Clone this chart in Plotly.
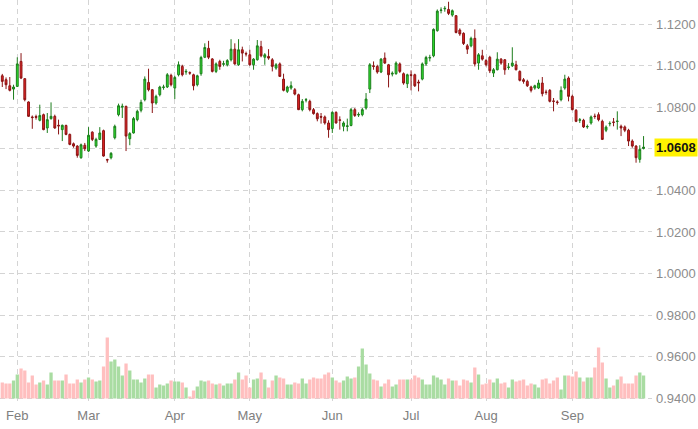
import pandas as pd
import plotly.graph_objects as go

# ---- data ----
holidays = ["2023-02-20", "2023-05-29", "2023-06-19", "2023-07-04", "2023-09-04"]
dates = [d for d in pd.bdate_range("2023-01-26", "2023-09-29") if d.strftime("%Y-%m-%d") not in holidays]

opens = [1.0951,1.0932,1.0903,1.0887,1.0900,1.1020,1.0937,1.0825,1.0753,1.0755,
         1.0737,1.0764,1.0700,1.0745,1.0756,1.0713,1.0692,1.0712,1.0669,1.0624,
         1.0613,1.0557,1.0617,1.0589,1.0680,1.0613,1.0645,1.0687,1.0548,1.0557,
         1.0653,1.0764,1.0800,1.0804,1.0648,1.0676,1.0740,1.0785,1.0836,1.0919,
         1.0884,1.0820,1.0860,1.0895,1.0897,1.0953,1.0892,1.0956,1.0996,1.0969,
         1.0966,1.0956,1.0908,1.0961,1.1040,1.1083,1.1032,1.0972,1.1020,1.1006,
         1.1004,1.1028,1.1079,1.1004,1.1076,1.1058,1.1052,1.1004,1.1028,1.1091,
         1.1040,1.1044,1.1028,1.0988,1.1008,1.0935,1.0876,1.0892,1.0884,1.0860,
         1.0788,1.0834,1.0828,1.0788,1.0769,1.0755,1.0753,1.0724,1.0697,1.0775,
         1.0739,1.0708,1.0707,1.0712,1.0788,1.0762,1.0764,1.0796,1.0887,1.0999,
         1.0996,1.0969,1.1036,1.1004,1.0959,1.0961,1.1008,1.0961,1.0913,1.0956,
         1.0956,1.0921,1.0935,1.1008,1.1036,1.1047,1.1168,1.1265,1.1273,1.1270,
         1.1243,1.1240,1.1171,1.1155,1.1095,1.1095,1.1131,1.1012,1.1047,1.1024,
         1.1040,1.0964,1.0980,1.1031,1.1028,1.0991,1.0999,1.1004,1.0972,1.0932,
         1.0924,1.0897,1.0892,1.0892,1.0916,1.0873,1.0881,1.0830,1.0825,1.0836,
         1.0892,1.0940,1.0852,1.0785,1.0737,1.0737,1.0705,1.0724,1.0757,1.0764,
         1.0732,1.0689,1.0720,1.0729,1.0731,1.0708,1.0705,1.0689,1.0637,1.0613,
         1.0549,1.0601]
highs = [1.0960,1.0943,1.0945,1.0908,1.1040,1.1060,1.0940,1.0828,1.0760,1.0764,
         1.0812,1.0769,1.0772,1.0823,1.0764,1.0740,1.0716,1.0716,1.0673,1.0630,
         1.0617,1.0625,1.0628,1.0704,1.0684,1.0653,1.0704,1.0692,1.0552,1.0584,
         1.0716,1.0817,1.0817,1.0807,1.0680,1.0753,1.0788,1.0836,1.0948,1.0985,
         1.0887,1.0860,1.0903,1.0908,1.0964,1.0961,1.0951,1.1020,1.1004,1.0983,
         1.0972,1.0961,1.0956,1.1047,1.1107,1.1119,1.1036,1.1015,1.1028,1.1023,
         1.1031,1.1127,1.1107,1.1127,1.1091,1.1067,1.1076,1.1036,1.1123,1.1119,
         1.1060,1.1079,1.1036,1.1012,1.1015,1.0961,1.0903,1.0924,1.0892,1.0865,
         1.0839,1.0844,1.0836,1.0796,1.0775,1.0772,1.0760,1.0737,1.0780,1.0780,
         1.0756,1.0732,1.0745,1.0796,1.0796,1.0775,1.0796,1.0868,1.1012,1.1020,
         1.1004,1.1036,1.1063,1.1008,1.0972,1.1020,1.1015,1.0967,1.0961,1.0977,
         1.0961,1.0932,1.1015,1.1047,1.1052,1.1179,1.1270,1.1280,1.1286,1.1307,
         1.1270,1.1243,1.1179,1.1160,1.1104,1.1139,1.1174,1.1060,1.1076,1.1031,
         1.1047,1.0988,1.1064,1.1036,1.1031,1.1012,1.1088,1.1023,1.0977,1.0940,
         1.0932,1.0903,1.0908,1.0932,1.0945,1.0884,1.0887,1.0844,1.0833,1.0900,
         1.0956,1.0948,1.0860,1.0791,1.0748,1.0744,1.0716,1.0760,1.0769,1.0775,
         1.0740,1.0712,1.0732,1.0748,1.0780,1.0716,1.0712,1.0696,1.0645,1.0617,
         1.0617,1.0661]
lows = [1.0897,1.0887,1.0876,1.0836,1.0897,1.0935,1.0828,1.0753,1.0696,1.0740,
        1.0732,1.0689,1.0676,1.0740,1.0696,1.0669,1.0637,1.0665,1.0617,1.0605,
        1.0557,1.0552,1.0589,1.0584,1.0637,1.0605,1.0642,1.0562,1.0533,1.0549,
        1.0645,1.0756,1.0748,1.0589,1.0617,1.0673,1.0732,1.0775,1.0828,1.0876,
        1.0772,1.0812,1.0852,1.0884,1.0892,1.0900,1.0839,1.0948,1.0948,1.0956,
        1.0956,1.0881,1.0900,1.0951,1.1036,1.1031,1.0967,1.0964,1.0980,1.0996,
        1.0996,1.1020,1.1004,1.0999,1.1020,1.1044,1.0999,1.0980,1.1024,1.1040,
        1.1004,1.1028,1.0972,1.0980,1.0945,1.0876,1.0868,1.0884,1.0857,1.0786,
        1.0780,1.0823,1.0780,1.0764,1.0732,1.0721,1.0716,1.0653,1.0676,1.0721,
        1.0692,1.0684,1.0684,1.0708,1.0753,1.0753,1.0756,1.0788,1.0868,1.0980,
        1.0961,1.0964,1.1008,1.0895,1.0948,1.0956,1.0964,1.0908,1.0892,1.0881,
        1.0897,1.0876,1.0929,1.0999,1.1020,1.1040,1.1163,1.1251,1.1259,1.1243,
        1.1235,1.1155,1.1143,1.1099,1.1056,1.1088,1.0996,1.0980,1.1024,1.0996,
        1.0964,1.0945,1.0977,1.1004,1.0956,1.0980,1.0993,1.0977,1.0924,1.0913,
        1.0897,1.0871,1.0884,1.0887,1.0852,1.0860,1.0823,1.0780,1.0812,1.0828,
        1.0884,1.0828,1.0785,1.0728,1.0724,1.0700,1.0696,1.0716,1.0744,1.0732,
        1.0642,1.0680,1.0708,1.0708,1.0692,1.0661,1.0680,1.0613,1.0605,1.0533,
        1.0533,1.0597]
closes = [1.0924,1.0908,1.0881,1.0897,1.1008,1.0940,1.0836,1.0756,1.0750,1.0751,
          1.0760,1.0692,1.0740,1.0756,1.0700,1.0710,1.0713,1.0669,1.0621,1.0613,
          1.0568,1.0619,1.0600,1.0665,1.0645,1.0645,1.0676,1.0565,1.0546,1.0578,
          1.0708,1.0807,1.0804,1.0661,1.0673,1.0745,1.0780,1.0823,1.0935,1.0884,
          1.0820,1.0852,1.0897,1.0897,1.0956,1.0908,1.0943,1.1004,1.0956,1.0972,
          1.0964,1.0903,1.0951,1.1039,1.1087,1.1040,1.0972,1.1008,1.0996,1.1009,
          1.1024,1.1079,1.1008,1.1076,1.1060,1.1056,1.1004,1.1031,1.1095,1.1047,
          1.1052,1.1036,1.0996,1.1004,1.0948,1.0881,1.0897,1.0903,1.0863,1.0788,
          1.0828,1.0836,1.0788,1.0769,1.0744,1.0752,1.0724,1.0692,1.0775,1.0724,
          1.0737,1.0724,1.0710,1.0788,1.0760,1.0765,1.0788,1.0839,1.1004,1.0996,
          1.0969,1.1031,1.1012,1.0956,1.0963,1.1012,1.0972,1.0916,1.0956,1.0953,
          1.0903,1.0917,1.1008,1.1039,1.1039,1.1174,1.1262,1.1267,1.1275,1.1251,
          1.1264,1.1159,1.1152,1.1106,1.1079,1.1131,1.1008,1.1052,1.1031,1.1004,
          1.0975,1.0980,1.1031,1.1012,1.0980,1.0993,1.1012,1.0980,1.0929,1.0924,
          1.0903,1.0881,1.0903,1.0916,1.0865,1.0871,1.0828,1.0828,1.0823,1.0881,
          1.0935,1.0852,1.0788,1.0732,1.0739,1.0705,1.0707,1.0753,1.0755,1.0740,
          1.0645,1.0704,1.0722,1.0727,1.0733,1.0700,1.0689,1.0637,1.0613,1.0557,
          1.0597,1.0608]
# volume, thousands of contracts
volumes = [160,150,150,180,240,300,280,160,230,140,
           160,180,140,260,180,180,180,240,150,150,
           190,160,190,210,190,170,180,320,610,370,
           390,320,230,350,280,190,190,160,200,240,
           240,110,140,130,150,180,170,170,160,110,
           20,80,120,180,170,180,150,140,150,130,
           150,150,190,260,190,230,110,190,200,260,
           190,110,180,230,210,200,140,140,160,150,
           200,150,190,210,200,200,240,260,210,180,
           160,180,220,200,210,320,500,340,250,190,
           180,120,150,190,120,140,190,190,190,190,
           230,210,190,140,140,230,210,190,140,200,
           180,180,130,190,180,160,310,240,140,150,
           190,160,200,150,160,110,190,170,180,190,
           130,150,140,110,190,200,150,180,210,90,
           230,230,220,270,210,170,210,210,310,510,
           360,200,110,130,190,220,150,150,150,230,
           260,230]

month_labels = ["Feb", "Mar", "Apr", "May", "Jun", "Jul", "Aug", "Sep"]
price_ticks = [0.94, 0.96, 0.98, 1.00, 1.02, 1.04, 1.06, 1.08, 1.10, 1.12]
last_price = closes[-1]

# ---- derived ----
x = list(range(len(dates)))
tickvals = []
seen = set()
for i, d in enumerate(dates):
    key = (d.year, d.month)
    if key not in seen:
        seen.add(key)
        if d.strftime("%b") in month_labels:
            tickvals.append(i)
ticktext = [dates[i].strftime("%b") for i in tickvals]

up = [c >= o for o, c in zip(opens, closes)]
vol_colors = ["#a9dca2" if u else "#ffbfbf" for u in up]

fig = go.Figure()
fig.add_trace(go.Bar(x=x, y=volumes, marker=dict(color=vol_colors, line=dict(width=0)),
                     yaxis="y2", showlegend=False, hoverinfo="skip"))
fig.add_trace(go.Candlestick(
    x=x, open=opens, high=highs, low=lows, close=closes,
    increasing=dict(line=dict(color="#1c7d1c", width=1), fillcolor="#2ee42e"),
    decreasing=dict(line=dict(color="#8a1414", width=1), fillcolor="#e42424"),
    showlegend=False, yaxis="y"))

grid = dict(showgrid=True, gridcolor="#d4d4d4", gridwidth=1, griddash="5px,4px",
            zeroline=False, showline=False, ticks="")

fig.update_layout(
    width=698, height=429,
    margin=dict(l=0, r=46, t=0, b=26),
    paper_bgcolor="white", plot_bgcolor="white",
    font=dict(family="Liberation Sans, Arial, sans-serif", size=13, color="#888888"),
    bargap=0.12,
    xaxis=dict(range=[-0.61, len(dates) + 1.25], tickmode="array", tickvals=tickvals,
               ticktext=ticktext, rangeslider=dict(visible=False), ticklabelstandoff=3,
               tickfont=dict(size=13, color="#808080"), **grid),
    yaxis=dict(side="right", range=[0.93774, 1.13154], tickmode="array",
               tickvals=price_ticks,
               ticktext=["" if abs(v - 1.06) < 1e-9 else f"{v:.4f}" for v in price_ticks],
               tickfont=dict(size=13, color="#8c8c8c"), ticklabelstandoff=3, **grid),
    yaxis2=dict(overlaying="y", range=[-45, 3985], visible=False),
    annotations=[dict(xref="paper", yref="y", x=1, y=last_price, xanchor="left", yanchor="middle",
                      xshift=2, text=f"<b>{last_price:.4f}</b>", showarrow=False,
                      bgcolor="#fff200", borderpad=1,
                      font=dict(size=13, color="#111111", family="Liberation Sans, Arial"))],
)

fig.write_html("out.html")
